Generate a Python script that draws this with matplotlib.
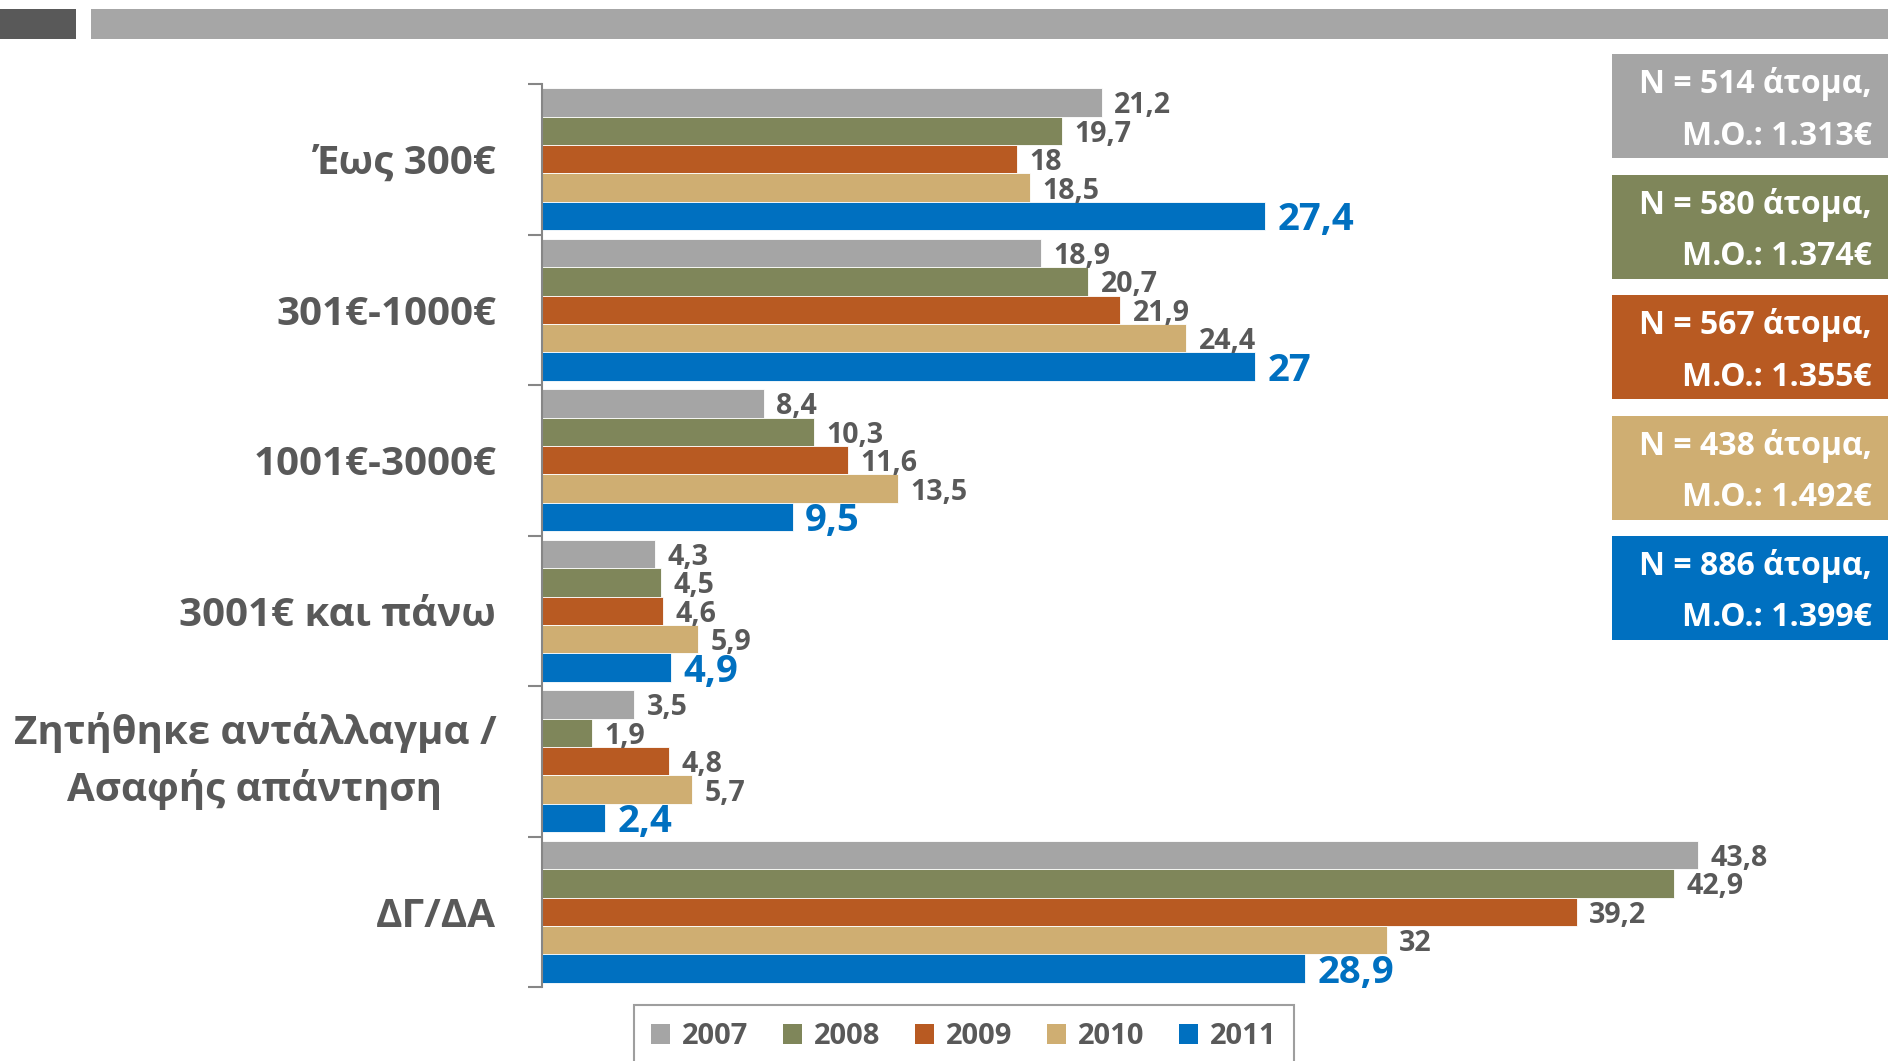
import numpy as np
import matplotlib.pyplot as plt
from matplotlib.patches import Rectangle, Patch

plt.rcParams['font.family'] = ['Open Sans', 'DejaVu Sans']
plt.rcParams['font.weight'] = 'bold'

categories = ['Έως 300€', '301€-1000€', '1001€-3000€', '3001€ και πάνω',
              'Ζητήθηκε αντάλλαγμα /\nΑσαφής απάντηση', 'ΔΓ/ΔΑ']
years = ['2007', '2008', '2009', '2010', '2011']
v2007 = [21.2, 18.9, 8.4, 4.3, 3.5, 43.8]
v2008 = [19.7, 20.7, 10.3, 4.5, 1.9, 42.9]
v2009 = [18, 21.9, 11.6, 4.6, 4.8, 39.2]
v2010 = [18.5, 24.4, 13.5, 5.9, 5.7, 32]
v2011 = [27.4, 27, 9.5, 4.9, 2.4, 28.9]
series = [v2007, v2008, v2009, v2010, v2011]
colors = ['#A5A5A5', '#7F865A', '#B85A22', '#CFAE72', '#0070C0']
box_n = ['514', '580', '567', '438', '886']
box_mean = ['1.313', '1.374', '1.355', '1.492', '1.399']

W, H = 1888, 1061
fig = plt.figure(figsize=(W / 100, H / 100), dpi=100)

# header strips
fig.add_artist(Rectangle((0, 1 - 39 / H), 76 / W, 30 / H, transform=fig.transFigure,
                         color='#595959', lw=0))
fig.add_artist(Rectangle((91 / W, 1 - 39 / H), 1 - 91 / W, 30 / H, transform=fig.transFigure,
                         color='#A6A6A6', lw=0))

ax = fig.add_axes([542 / W, 1 - 987 / H, (W - 542) / W, (987 - 84) / H])
y = np.arange(len(categories))
bh = 0.189
for i, (vals, c) in enumerate(zip(series, colors)):
    pos = y + (i - 2) * bh
    ax.barh(pos, vals, height=bh, color=c, edgecolor='white', linewidth=0.6)
    for p, v in zip(pos, vals):
        txt = f'{v:g}'.replace('.', ',')
        if i == 4:
            ax.annotate(txt, (v, p), xytext=(9, -3), textcoords='offset points',
                        va='center', ha='left', fontsize=27.5, color='#0070C0', fontweight='bold')
        else:
            ax.annotate(txt, (v, p), xytext=(9, -2.5), textcoords='offset points',
                        va='center', ha='left', fontsize=20.5, color='#595959', fontweight='bold')

ax.set_xlim(0, 51.0)
ax.set_ylim(len(categories) - 0.5, -0.5)
ax.set_yticks(y)
ax.set_yticklabels(categories, fontsize=29, color='#595959', fontweight='bold',
                   multialignment='center', linespacing=1.5)
# the two-line label sits centred on its group
ax.get_yticklabels()[4].set_va('center')
ax.tick_params(axis='y', which='major', length=0, pad=33)
ax.set_yticks(np.arange(-0.5, len(categories)), minor=True)
ax.tick_params(axis='y', which='minor', length=10, width=1.5, color='#868686')
ax.set_xticks([])
for s in ['top', 'right', 'bottom']:
    ax.spines[s].set_visible(False)
ax.spines['left'].set_color('#868686')
ax.spines['left'].set_linewidth(1.5)

# N / mean boxes
for k in range(5):
    top = 54 + k * 120.5
    fig.add_artist(Rectangle((1612 / W, 1 - (top + 104) / H), (W - 1612) / W, 104 / H,
                             transform=fig.transFigure, color=colors[k], lw=0))
    fig.text(1872 / W, 1 - (top + 30) / H, f'N = {box_n[k]} άτομα,', ha='right', va='center',
             fontsize=23, color='white', fontweight='bold')
    fig.text(1872 / W, 1 - (top + 82) / H, f'Μ.Ο.: {box_mean[k]}€', ha='right', va='center',
             fontsize=23, color='white', fontweight='bold')

handles = [Patch(facecolor=c, edgecolor='none') for c in colors]
leg = fig.legend(handles, years, loc='upper center', bbox_to_anchor=(0.5105, 1 - 990 / H),
                 ncol=5, fontsize=21, frameon=True, fancybox=False, edgecolor='#868686',
                 handlelength=0.65, handleheight=0.65, handletextpad=0.4, columnspacing=1.2,
                 borderpad=0.6)
leg.get_frame().set_linewidth(1.5)
for t in leg.get_texts():
    t.set_color('#595959')

fig.savefig('out.png', dpi=100)
